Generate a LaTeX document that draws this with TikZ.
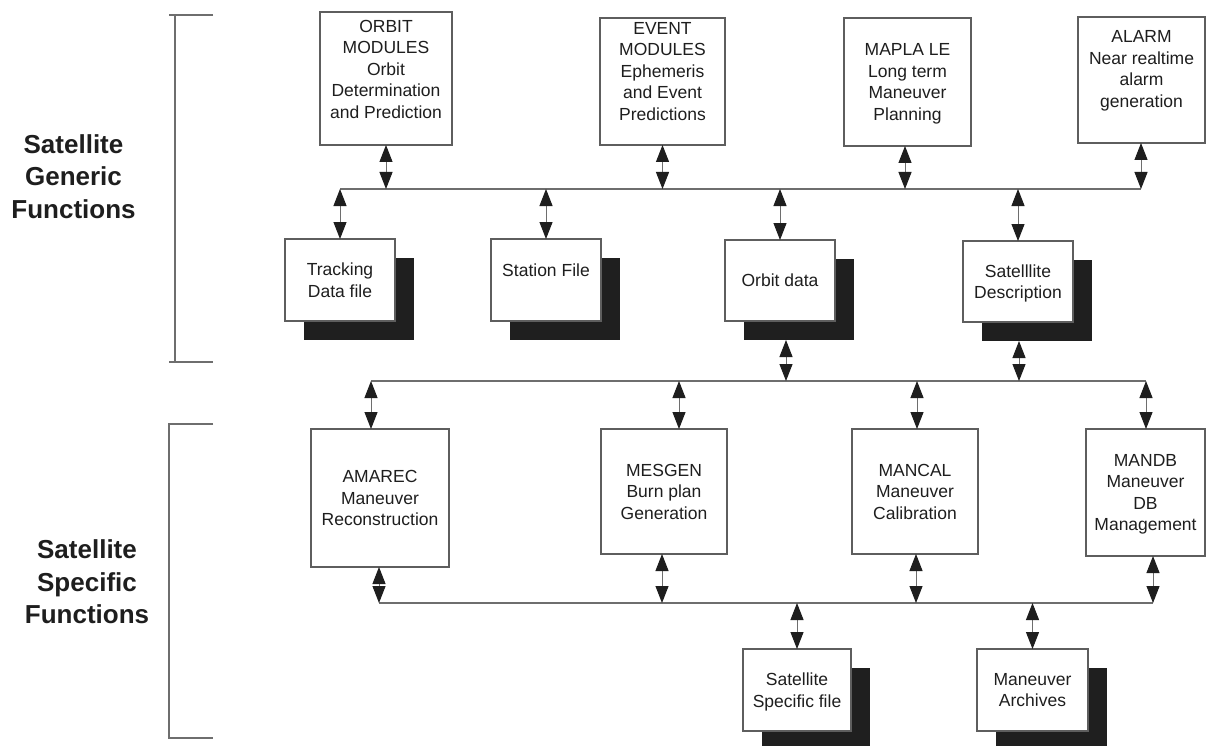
\documentclass[tikz,border=0pt]{standalone}
\usepackage{fontspec}
\setmainfont{Liberation Sans}
\usetikzlibrary{arrows.meta,calc}
\definecolor{ink}{HTML}{1E1E1E}
\definecolor{boxgray}{HTML}{5E5E5E}
\definecolor{linegray}{HTML}{6E6E6E}
\definecolor{shade}{HTML}{1F1F1F}
\begin{document}
\begin{tikzpicture}[x=1pt,y=-1pt,
  every node/.style={inner sep=0pt,outer sep=0pt},
  box/.style={rectangle,draw=boxgray,line width=1.4pt,fill=white,align=center,
    font=\fontsize{17.5}{21.5}\selectfont,text=ink,text depth=0pt},
  shadowbox/.style={rectangle,fill=shade,draw=none},
  link/.style={draw=linegray,line width=1pt,
    {Triangle[width=13pt,length=17pt,color=ink]}-{Triangle[width=13pt,length=17pt,color=ink]}},
  bus/.style={draw=linegray,line width=1.4pt},
  brace/.style={draw=linegray,line width=1.4pt},
  side/.style={align=center,font=\fontsize{26}{32.5}\selectfont\bfseries,text=ink,text depth=0pt}]

% page
\fill[white] (0,0) rectangle (1206,746);
\useasboundingbox (0,0) rectangle (1206,746);

% ---------- group brackets and their captions ----------
\draw[brace] (213,15) -- (169,15);
\draw[brace] (175,15) -- (175,362);
\draw[brace] (169,362) -- (213,362);
\draw[brace] (213,424) -- (169,424) -- (169,738) -- (213,738);

\node[side] (generic) at (73.5,176.5) {Satellite\\Generic\\Functions};
\node[side] (specific) at (87,582) {Satellite\\Specific\\Functions};

% ---------- generic modules ----------
\node[box,minimum width=132pt,minimum height=133pt,text depth=19pt] (orbit) at (386,78.5)
  {ORBIT\\MODULES\\Orbit\\Determination\\and Prediction};
\node[box,minimum width=125pt,minimum height=127pt,text depth=21pt] (event) at (662.5,81.5)
  {EVENT\\MODULES\\Ephemeris\\and Event\\Predictions};
\node[box,minimum width=127pt,minimum height=128pt] (mapla) at (907.5,82)
  {MAPLA LE\\Long term\\Maneuver\\Planning};
\node[box,minimum width=127pt,minimum height=126pt,text depth=22pt] (alarm) at (1141.5,80)
  {ALARM\\Near realtime\\alarm\\generation};

% ---------- generic data files (with drop shadows) ----------
\node[shadowbox,minimum width=110pt,minimum height=82pt] (track-sh) at (359,299) {};
\node[box,minimum width=110pt,minimum height=82pt] (track) at (340,280) {Tracking\\Data file};
\node[shadowbox,minimum width=110pt,minimum height=82pt] (station-sh) at (565,299) {};
\node[box,minimum width=110pt,minimum height=82pt,text depth=20pt] (station) at (546,280) {Station File};
\node[shadowbox,minimum width=110pt,minimum height=81pt] (orbd-sh) at (799,299.5) {};
\node[box,minimum width=110pt,minimum height=81pt] (orbd) at (780,280.5) {Orbit data};
\node[shadowbox,minimum width=110pt,minimum height=81pt] (satd-sh) at (1037,300.5) {};
\node[box,minimum width=110pt,minimum height=81pt] (satd) at (1018,281.5) {Satelllite\\Description};

% ---------- specific modules ----------
\node[box,minimum width=138pt,minimum height=138pt] (amarec) at (380,498)
  {AMAREC\\Maneuver\\Reconstruction};
\node[box,minimum width=126pt,minimum height=125pt] (mesgen) at (664,491.5)
  {MESGEN\\Burn plan\\Generation};
\node[box,minimum width=126pt,minimum height=125pt] (mancal) at (915,491.5)
  {MANCAL\\Maneuver\\Calibration};
\node[box,minimum width=119pt,minimum height=127pt] (mandb) at (1145.5,492.5)
  {MANDB\\Maneuver\\DB\\Management};

% ---------- specific data files ----------
\node[shadowbox,minimum width=108pt,minimum height=82pt] (satspec-sh) at (816,709) {};
\node[box,minimum width=108pt,minimum height=82pt] (satspec) at (797,690) {Satellite\\Specific file};
\node[shadowbox,minimum width=111pt,minimum height=82pt] (arch-sh) at (1051.5,709) {};
\node[box,minimum width=111pt,minimum height=82pt] (arch) at (1032.5,690) {Maneuver\\Archives};

% ---------- buses ----------
\coordinate (b1w) at (340,189);  \coordinate (b1e) at (1141,189);
\coordinate (b2w) at (371,381);  \coordinate (b2e) at (1146,381);
\coordinate (b3w) at (379,603);  \coordinate (b3e) at (1153,603);
\draw[bus] (b1w) -- (b1e);
\draw[bus] (b2w) -- (b2e);
\draw[bus] (b3w) -- (b3e);

% taps that sit off a box centre
\coordinate (t-mapla) at (905,189);
\coordinate (t-alarm) at (1141,189);
\coordinate (t-orbd) at (786,381);
\coordinate (t-satd) at (1019,381);
\coordinate (t-amarec) at (371,381);
\coordinate (t-mesgen) at (679,381);
\coordinate (t-mancal) at (917,381);
\coordinate (t-mandb) at (1146,381);
\coordinate (u-amarec) at (379,603);
\coordinate (u-mesgen) at (662,603);
\coordinate (u-mancal) at (916,603);
\coordinate (u-mandb) at (1153,603);

% ---------- links: generic level ----------
\draw[link] (orbit.south) -- (orbit.south |- b1w);
\draw[link] (event.south) -- (event.south |- b1w);
\draw[link] (t-mapla |- mapla.south) -- (t-mapla);
\draw[link] (t-alarm |- alarm.south) -- (t-alarm);
\draw[link] (track.north |- b1w) -- (track.north);
\draw[link] (station.north |- b1w) -- (station.north);
\draw[link] (orbd.north |- b1w) -- (orbd.north);
\draw[link] (satd.north |- b1w) -- (satd.north);

% ---------- links: files to specific bus ----------
\draw[link] (t-orbd |- orbd-sh.south) -- (t-orbd);
\draw[link] (t-satd |- satd-sh.south) -- (t-satd);

% ---------- links: specific modules ----------
\draw[link] (t-amarec) -- (t-amarec |- amarec.north);
\draw[link] (t-mesgen) -- (t-mesgen |- mesgen.north);
\draw[link] (t-mancal) -- (t-mancal |- mancal.north);
\draw[link] (t-mandb) -- (t-mandb |- mandb.north);
\draw[link] (u-amarec |- amarec.south) -- (u-amarec);
\draw[link] (u-mesgen |- mesgen.south) -- (u-mesgen);
\draw[link] (u-mancal |- mancal.south) -- (u-mancal);
\draw[link] (u-mandb |- mandb.south) -- (u-mandb);
\draw[link] (satspec.north |- b3w) -- (satspec.north);
\draw[link] (arch.north |- b3w) -- (arch.north);
\end{tikzpicture}
\end{document}
